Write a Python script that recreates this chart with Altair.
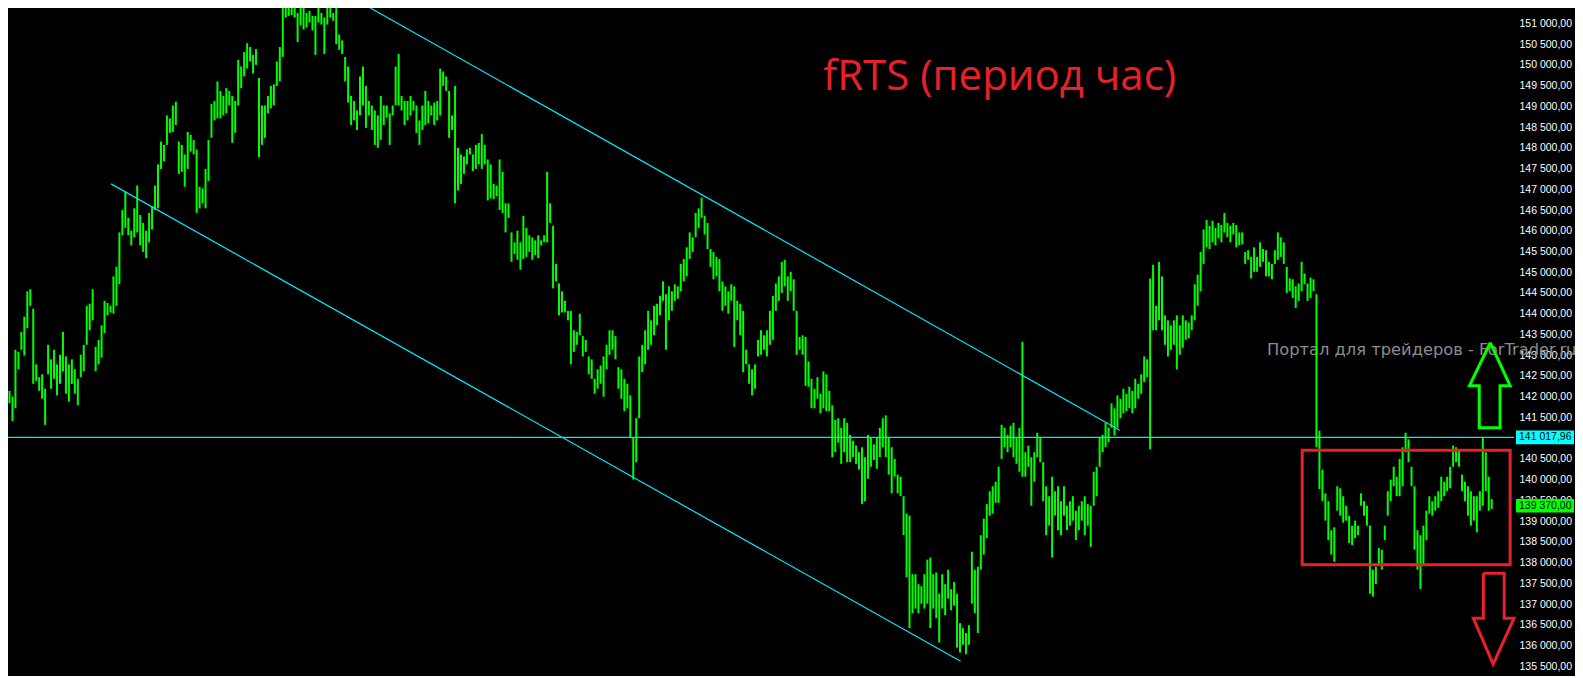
import altair as alt
import pandas as pd

# ---- hourly bars (high / low) of fRTS ----
HIGHS = [
    142140, 142000, 143130, 143080, 143560, 143930, 144540, 144590, 144120, 142780,
    142470, 142540, 142190, 143250, 142900, 143130, 142780, 143010, 143560, 142970,
    142780, 142900, 142660, 142430, 143010, 143250, 144190, 144240, 144590, 143200,
    143370, 143720, 144310, 144260, 144190, 144900, 145130, 145960, 146500, 146940,
    146310, 146000, 146540, 147090, 146380, 146190, 146000, 146430, 146590, 147090,
    147600, 148150, 148070, 148780, 148710, 149020, 149110, 148150, 148070, 147840,
    148380, 148310, 148190, 147960, 147060, 147020, 147490, 148190, 149060, 149130,
    149600, 149370, 149250, 149440, 149370, 149250, 149130, 150120, 149960, 150310,
    150520, 150430, 150240, 150380, 149680, 149020, 149020, 149250, 149490, 149530,
    150080, 150430, 151370, 151600, 151490, 151490, 151560, 151250, 151440, 151370,
    151250, 151300, 151180, 151180, 151490, 151250, 151140, 151440, 151490, 151250,
    151490, 150730, 150590, 150190, 149960, 149250, 149130, 148900, 149720, 149960,
    149490, 149130, 149020, 148900, 148780, 149250, 149020, 149020, 148830, 149020,
    149960, 150260, 149250, 149130, 149130, 149250, 149130, 149020, 148660, 149020,
    149370, 149130, 149020, 149090, 149130, 149910, 149840, 149720, 149370, 148780,
    149490, 148000, 147840, 147790, 147960, 148000, 147840, 148070, 148120, 148330,
    148070, 147720, 147600, 147130, 147090, 147720, 147420, 146660, 146660, 145960,
    145720, 146000, 145720, 146360, 146070, 145890, 145840, 145770, 145890, 145770,
    145890, 147420, 146660, 146120, 145200, 144730, 144540, 144310, 144070, 144070,
    143600, 143560, 144000, 143460, 143370, 142970, 142900, 142430, 142660, 142750,
    142970, 143250, 143600, 143600, 143460, 142710, 142660, 142430, 142310, 142030,
    141010, 141480, 142970, 143250, 143600, 144070, 143840, 144190, 144240, 144430,
    144780, 144470, 144660, 144540, 144710, 144660, 145200, 145320, 145600, 145960,
    145840, 146430, 146540, 146800, 146360, 146190, 145560, 145490, 145370, 145320,
    144780, 144660, 144540, 144710, 144660, 144310, 144240, 144070, 143130, 142780,
    142660, 142780, 143370, 143600, 143480, 143600, 144070, 144430, 144730, 144900,
    145250, 145300, 144900, 145010, 144830, 144070, 143440, 143480, 143440, 142850,
    142430, 142190, 142470, 142070, 142610, 142540, 142140, 141790, 141440, 141480,
    141250, 141480, 141370, 141080, 140940, 140820, 140660, 140780, 140540, 141080,
    141010, 140850, 141010, 141250, 141480, 141550, 141010, 140780, 140500, 140120,
    140070, 139600, 139180, 139130, 137720, 137720, 137480, 137430, 137720, 138070,
    138120, 137720, 137760, 137250, 137720, 137480, 137830, 137360, 137530, 137250,
    136540, 136420, 136300, 136490, 138260, 137830, 137900, 138660, 139060, 139410,
    139720, 139840, 139950, 140310, 141320, 141250, 141080, 141300, 141370, 141010,
    141250, 143320, 140660, 140820, 140540, 140660, 141130, 141010, 140420, 139840,
    139600, 140070, 139720, 139840, 139480, 139840, 139370, 139480, 139600, 139250,
    139370, 139480, 139600, 139410, 139370, 140190, 140310, 141010, 141080, 141370,
    141250, 141840, 141720, 142030, 141950, 142190, 142070, 142240, 142140, 142430,
    142310, 142540, 142970, 142900, 144850, 145180, 144190, 145250, 144900, 143960,
    143840, 143720, 143840, 143960, 143720, 143960, 143840, 143790, 143960, 144710,
    144940, 145490, 146030, 146260, 146120, 146240, 146070, 146190, 146140, 146430,
    146190, 146120, 146190, 146140, 145960, 145960, 145490, 145530, 145370, 145600,
    145370, 145720, 145560, 145530, 145250, 145200, 145530, 145960, 145840, 145720,
    145130, 144850, 144830, 144660, 144730, 145250, 144970, 144730, 144870, 144830,
    144470, 141180, 140240, 139670, 139480, 138780, 138850, 139840, 139790, 139600,
    139370, 139130, 138890, 139010, 138890, 139670, 139480, 139370, 138890, 137830,
    137900, 138350, 138310, 138890, 139720, 140000, 140310, 140070, 140500, 140780,
    141130, 140970, 140310, 139840, 138780, 138660, 138890, 139250, 139600, 139480,
    139600, 139720, 140070, 139950, 140070, 140310, 140820, 140780, 140730, 140120,
    139950, 139840, 139720, 139600, 139600, 139720, 141010, 140660, 140070, 139530,
]
LOWS = [
    141840, 141410, 141720, 142660, 143130, 142990, 143650, 144190, 142310, 142380,
    142140, 141950, 141320, 142540, 142190, 142430, 142030, 142310, 142610, 142070,
    141880, 142310, 142070, 141790, 142470, 142610, 143250, 143600, 143840, 142610,
    142780, 142940, 143530, 143960, 144030, 144000, 144190, 144710, 145890, 146070,
    145890, 145650, 145840, 145960, 145650, 145490, 145340, 145720, 146030, 146500,
    146540, 147490, 147670, 148070, 148360, 148380, 148550, 147370, 147420, 147060,
    147490, 147910, 147840, 146430, 146540, 146660, 146540, 147200, 148240, 148660,
    148710, 148710, 148780, 148830, 149020, 148120, 148360, 149020, 149440, 149720,
    149910, 150080, 149790, 150000, 147770, 148070, 148240, 148830, 148950, 149020,
    149490, 149600, 150190, 151140, 151180, 151200, 151140, 150550, 150950, 150850,
    150900, 151020, 150830, 150240, 151020, 150970, 150260, 150970, 151140, 151060,
    150500, 150360, 150260, 149600, 149090, 148550, 148660, 148430, 148780, 149020,
    148480, 148780, 148430, 148070, 148000, 148190, 148550, 148730, 148070, 148780,
    149020, 149020, 148900, 148550, 148660, 148780, 148900, 148360, 148070, 148430,
    148550, 148590, 148780, 148550, 148660, 148780, 149490, 149370, 148240, 148430,
    146660, 146970, 147130, 147370, 147600, 147840, 147440, 147490, 147600, 147490,
    147600, 146730, 146780, 146760, 146830, 146500, 146430, 145960, 146310, 145250,
    145440, 145300, 145060, 145320, 145370, 145490, 145300, 145410, 145340, 145650,
    145720, 145720, 146190, 144610, 144780, 143960, 144030, 144030, 143840, 142780,
    143080, 143250, 143480, 142970, 143080, 142540, 142430, 142070, 142190, 142310,
    142000, 142660, 143010, 143130, 142900, 142190, 141950, 141650, 141720, 141010,
    140000, 140420, 141480, 142590, 142780, 143130, 143250, 143480, 143720, 143960,
    144310, 143130, 143840, 144070, 144310, 144360, 144540, 144780, 144900, 145320,
    145490, 145840, 146070, 146310, 145910, 145560, 145130, 144830, 144900, 144540,
    144070, 144190, 144000, 144310, 143200, 143840, 143480, 142590, 142780, 142310,
    142030, 142190, 142970, 143010, 143130, 142970, 143250, 143370, 144070, 144310,
    144500, 144660, 144310, 144540, 144070, 143010, 143130, 143010, 142260, 142240,
    141720, 141720, 141950, 141600, 141720, 141650, 141650, 140540, 140660, 140890,
    140380, 140660, 140420, 140420, 140540, 140380, 140240, 139410, 139480, 140020,
    140310, 140470, 140260, 140540, 140780, 140540, 140120, 139670, 140070, 139670,
    139600, 138660, 137650, 136420, 136780, 136890, 136780, 137010, 136890, 137010,
    136420, 136890, 136660, 136070, 136890, 136730, 137130, 136850, 136960, 135950,
    135830, 136020, 135790, 136020, 137010, 136780, 136300, 137830, 138190, 138590,
    139130, 139180, 139440, 139440, 140500, 140780, 140660, 140780, 140540, 140380,
    140190, 140070, 140070, 140310, 139370, 139950, 140540, 140420, 139480, 138660,
    138890, 138120, 139130, 138780, 138660, 139130, 138780, 138890, 139010, 138540,
    138780, 139010, 138660, 138890, 138380, 139370, 139600, 140310, 140660, 140780,
    140900, 141250, 141060, 141250, 141480, 141600, 141650, 141720, 141600, 141720,
    141950, 142070, 142350, 142470, 140730, 143600, 143600, 143840, 143600, 143250,
    142970, 143130, 143250, 142660, 143010, 143180, 143370, 143410, 143600, 143840,
    144190, 144540, 145200, 145600, 145560, 145720, 145650, 145820, 145720, 145960,
    145840, 145720, 145910, 145600, 145650, 145670, 145200, 145300, 144850, 145010,
    145010, 145130, 145250, 144900, 144900, 144830, 145200, 145300, 145370, 145200,
    144500, 144540, 144380, 144140, 144310, 144540, 144710, 144310, 144380, 144540,
    140780, 139770, 139480, 139010, 138540, 138190, 138020, 139250, 139130, 138960,
    139010, 138470, 138420, 138590, 138660, 139370, 139130, 138890, 137250, 137180,
    137480, 137950, 137830, 138540, 139130, 139480, 139840, 139600, 139600, 139840,
    140660, 140420, 139840, 138310, 137830, 137360, 137950, 138540, 139180, 139130,
    139250, 139320, 139480, 139600, 139720, 139790, 140310, 140420, 140310, 139720,
    139480, 139130, 138890, 139010, 138730, 139250, 139370, 139720, 139250, 139290,
]

# price axis
TICK_PRICES = [135500 + 500 * k for k in range(32)]
PRICE_MIN, PRICE_MAX = 135410, 151370
IDX_MIN, IDX_MAX = -0.5, 506.5

# annotations (bar index / price)
LEVEL_PRICE = 141017.96
LAST_PRICE = 139370.00
CHANNEL_LINE = ["upper", "upper", "lower", "lower"]
CHANNEL_IDX = [121.5, 373.8, 34.2, 320.2]
CHANNEL_PRICE = [151370, 141190, 147130, 135620]
BOX_IDX = [435.2, 505.2]
BOX_PRICE = [140710, 137950]
UP_IDX = [498.5, 505.2, 501.8, 501.8, 494.8, 494.8, 491.5, 498.5]
UP_PRICE = [143300, 142260, 142260, 141250, 141250, 142260, 142260, 143300]
DN_IDX = [496.2, 503.2, 503.2, 506.5, 499.5, 492.8, 496.2, 496.2]
DN_PRICE = [137740, 137740, 136660, 136660, 135550, 136660, 136660, 137740]

TITLE = "fRTS (период час)"
WATERMARK = "Портал для трейдеров - ForTrader.ru"

PLOT_W, PLOT_H = 1506, 662
LIME = "#00ff00"
CYAN = "#00e8f8"
RED = "#e8202a"
FMT = "replace(replace(format(datum.v, ',.2f'), ',', ' '), '.', ',')"

xs = alt.Scale(domain=[IDX_MIN, IDX_MAX], nice=False, zero=False)
ys = alt.Scale(domain=[PRICE_MIN, PRICE_MAX], nice=False, zero=False)

Y_AXIS = alt.Axis(
    orient="right", values=TICK_PRICES,
    labelExpr="replace(replace(format(datum.value, ',.2f'), ',', ' '), '.', ',')",
    domain=False, ticks=False, grid=False, title=None,
    labelColor="#ffffff", labelFont="Liberation Sans", labelFontSize=10.5,
    labelPadding=5, labelAlign="left", labelBaseline="middle",
    labelOverlap=False, labelBound=False, labelFlush=10,
)


def ych(field):
    return alt.Y(field, scale=ys, axis=Y_AXIS)


def xch(field):
    return alt.X(field, scale=xs, axis=None)


bars_df = pd.DataFrame({"idx": list(range(len(HIGHS))), "hi": HIGHS, "lo": LOWS})

watermark = alt.Chart(pd.DataFrame({"t": [WATERMARK]})).mark_text(
    align="left", baseline="middle", font="DejaVu Sans", fontSize=16.3, color="#8c8c8c"
).encode(x=alt.value(1259), y=alt.value(342), text="t:N")

bars = alt.Chart(bars_df).mark_rule(color=LIME, strokeWidth=2, clip=True).encode(
    x=xch("idx:Q"), y=ych("lo:Q"), y2="hi:Q",
)

channel = alt.Chart(pd.DataFrame({"line": CHANNEL_LINE, "idx": CHANNEL_IDX, "p": CHANNEL_PRICE})).mark_line(
    color=CYAN, strokeWidth=1.2, clip=True
).encode(x=xch("idx:Q"), y=ych("p:Q"), detail="line:N")

level = alt.Chart(pd.DataFrame({"p": [LEVEL_PRICE]})).mark_rule(color=CYAN, strokeWidth=1.2).encode(
    y=ych("p:Q")
)

box = alt.Chart(pd.DataFrame({"x1": [BOX_IDX[0]], "x2": [BOX_IDX[1]], "y1": [BOX_PRICE[0]], "y2": [BOX_PRICE[1]]})).mark_rect(
    filled=False, stroke=RED, strokeWidth=3
).encode(x=xch("x1:Q"), x2="x2:Q", y=ych("y1:Q"), y2="y2:Q")

arrows_df = pd.DataFrame({
    "arrow": ["up"] * len(UP_IDX) + ["down"] * len(DN_IDX),
    "k": list(range(len(UP_IDX))) + list(range(len(DN_IDX))),
    "idx": UP_IDX + DN_IDX,
    "p": UP_PRICE + DN_PRICE,
})
arrows = alt.Chart(arrows_df).mark_line(strokeWidth=3, strokeJoin="miter").encode(
    x=xch("idx:Q"), y=ych("p:Q"),
    order="k:Q",
    detail="arrow:N",
    color=alt.Color("arrow:N", scale=alt.Scale(domain=["up", "down"], range=[LIME, RED]), legend=None),
)

title = alt.Chart(pd.DataFrame({"t": [TITLE]})).mark_text(
    align="left", baseline="alphabetic", font="Open Sans", fontSize=42, color=RED
).encode(x=alt.value(815), y=alt.value(82), text="t:N")

tags_df = pd.DataFrame({"v": [LEVEL_PRICE, LAST_PRICE], "kind": ["level", "last"]})
tag_base = alt.Chart(tags_df).transform_calculate(
    top="datum.v + 165", bot="datum.v - 165", label=FMT
)
tag_box = tag_base.mark_rect().encode(
    x=alt.value(1508), x2=alt.value(1566),
    y=ych("top:Q"), y2="bot:Q",
    color=alt.Color("kind:N", scale=alt.Scale(domain=["level", "last"], range=["#00ffff", LIME]), legend=None),
)
tag_text = tag_base.mark_text(
    align="left", baseline="middle", font="Liberation Sans", fontSize=10.5, color="#000000"
).encode(x=alt.value(1511), y=ych("v:Q"), text="label:N")

chart = alt.layer(
    watermark, bars, channel, level, box, arrows, title, tag_box, tag_text
).resolve_scale(color="independent").properties(
    width=PLOT_W, height=PLOT_H,
    autosize=alt.AutoSizeParams(type="none"),
    padding={"left": 0, "top": 0, "right": 61, "bottom": 6},
    background="#000000",
).configure_view(stroke=None)

chart.save("out.html", embed_options={"renderer": "svg", "actions": False})
